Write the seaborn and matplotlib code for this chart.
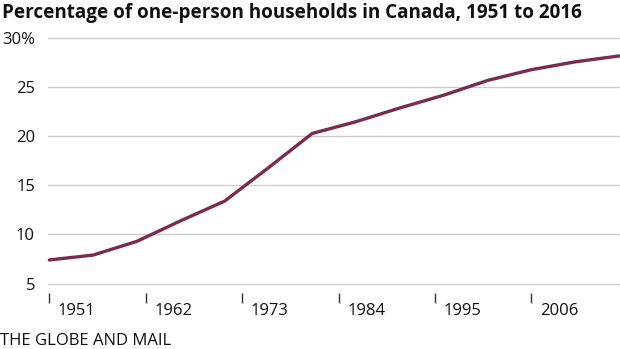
import matplotlib
matplotlib.use("Agg")
import matplotlib.pyplot as plt
import matplotlib.transforms as mtransforms
import seaborn as sns
import pandas as pd

years = [1951, 1956, 1961, 1966, 1971, 1976, 1981, 1986, 1991, 1996, 2001, 2006, 2011, 2016]
pct = [7.4, 7.9, 9.3, 11.4, 13.4, 16.8, 20.3, 21.5, 22.9, 24.2, 25.7, 26.8, 27.6, 28.2]
xtick_years = [1951, 1962, 1973, 1984, 1995, 2006]
ytick_vals = [5, 10, 15, 20, 25, 30]
ytick_labels = ["5", "10", "15", "20", "25", "30%"]
title = "Percentage of one-person households in Canada, 1951 to 2016"
source = "THE GLOBE AND MAIL"

sns.set_style("white")
label_font = "Open Sans"
title_font = "Open Sans"
plt.rcParams["font.family"] = [label_font, "DejaVu Sans"]

df = pd.DataFrame({"year": years, "pct": pct})

W, H = 620, 349
fig = plt.figure(figsize=(W / 100, H / 100), dpi=100)
ax_left, ax_right = 48, 619
ax_top, ax_bottom = 38.3, 293
ax = fig.add_axes([ax_left / W, 1 - ax_bottom / H, (ax_right - ax_left) / W, (ax_bottom - ax_top) / H])

sns.lineplot(data=df, x="year", y="pct", ax=ax, color="#7a2b4f", linewidth=2.4, clip_on=False)

ax.set_xlim(1951 - 1.3 / 8.76, 2016)
ax.set_ylim(5 - (293 - 283.5) / 9.81, 30)

for s in ax.spines.values():
    s.set_visible(False)

ax.set_yticks(ytick_vals)
ax.set_yticklabels(ytick_labels)
ax.yaxis.grid(True, color="#cccccc", linewidth=1)
ax.set_axisbelow(True)
for gl in ax.get_ygridlines():
    gl.set_clip_on(False)
ax.tick_params(axis="y", length=0, pad=9.4, labelsize=12, labelcolor="#111111")

ax.set_xticks(xtick_years)
ax.set_xticklabels([str(y) for y in xtick_years])
ax.tick_params(axis="x", direction="out", length=7.2, width=1, color="#333333", pad=0,
               labelsize=12, labelcolor="#111111", bottom=True)
off = mtransforms.ScaledTranslation(8.5 / 100, 0, fig.dpi_scale_trans)
for lab in ax.get_xticklabels():
    lab.set_horizontalalignment("left")
    lab.set_transform(lab.get_transform() + off)

ax.set_xlabel("")
ax.set_ylabel("")

fig.text(2 / W, 1 - 18.3 / H, title, fontsize=13.6, fontweight="bold",
         family=[title_font, "DejaVu Sans"], color="#111111", va="baseline", ha="left")
fig.text(0, 4 / H, source, fontsize=12, color="#111111", va="baseline", ha="left")

fig.savefig("out.png", dpi=100)
